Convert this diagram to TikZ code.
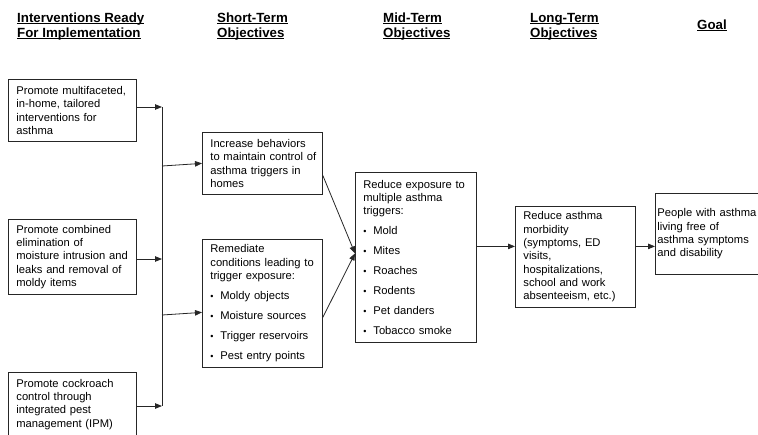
\documentclass[tikz,border=0pt]{standalone}
\usepackage{fontspec}
\setmainfont{Liberation Sans}
\usetikzlibrary{arrows.meta,calc}
\newcommand\hul[1]{\setbox0\hbox{#1}\rlap{\rule[-1.6pt]{\wd0}{0.9pt}}\box0}
\newcommand\bitem[1]{\makebox[10pt][l]{\raisebox{0.3pt}{\fontsize{9}{9}\selectfont •}}#1}
\begin{document}
\begin{tikzpicture}[x=1pt,y=-1pt,
  box/.style={draw=black!85, line width=0.8pt, align=left, anchor=north west,
    font=\fontsize{11.2}{13.3}\selectfont, inner xsep=8pt, inner ysep=0pt},
  head/.style={font=\fontsize{13.3}{14.8}\selectfont\bfseries, align=left,
    anchor=base west, inner sep=0pt},
  conn/.style={line width=0.8pt, draw=black!85},
  arr/.style={conn, -{Triangle[length=7pt,width=5.5pt]}}]
\useasboundingbox (0,0) rectangle (758,434);
\clip (0,0) rectangle (758,434);

% headings (base = baseline of last line)
\node[head] (h1) at (17,37.3) {\hul{Interventions Ready}\\\hul{For Implementation}};
\node[head] (h2) at (217,37.3) {\hul{Short-Term}\\\hul{Objectives}};
\node[head] (h3) at (383,37.3) {\hul{Mid-Term}\\\hul{Objectives}};
\node[head] (h4) at (530,37.3) {\hul{Long-Term}\\\hul{Objectives}};
\node[head] (h5) at (697,29.5) {\hul{Goal}};

% interventions
\node[box, text width=112pt, minimum height=62pt] (i1) at (8,79)
  {Promote multifaceted,\\in-home, tailored\\interventions for\\asthma};
\node[box, text width=112pt, minimum height=75pt] (i2) at (8,219)
  {Promote combined\\elimination of\\\mbox{moisture intrusion and}\\leaks and removal of\\moldy items};
\node[box, text width=112pt, minimum height=64pt] (i3) at (8,372)
  {Promote cockroach\\control through\\integrated pest\\management (IPM)};

% short-term
\node[box, text width=104pt, minimum height=62pt] (s1) at (202,132)
  {Increase behaviors\\\mbox{to maintain control of}\\asthma triggers in\\homes};
\node[box, text width=104pt, minimum height=128pt] (s2) at (202,239)
  {Remediate\\\mbox{conditions leading to}\\trigger exposure:\\[6.7pt]\bitem{Moldy objects}\\[6.7pt]\bitem{Moisture sources}\\[6.7pt]\bitem{Trigger reservoirs}\\[6.7pt]\bitem{Pest entry points}};

% mid-term
\node[box, text width=105pt, minimum height=170pt] (m) at (355,172)
  {Reduce exposure to\\multiple asthma\\triggers:\\[6.7pt]\bitem{Mold}\\[6.7pt]\bitem{Mites}\\[6.7pt]\bitem{Roaches}\\[6.7pt]\bitem{Rodents}\\[6.7pt]\bitem{Pet danders}\\[6.7pt]\bitem{Tobacco smoke}};

% long-term
\node[box, text width=104pt, minimum height=101pt] (l) at (515,206)
  {Reduce asthma\\morbidity\\(symptoms, ED\\visits,\\hospitalizations,\\school and work\\absenteeism, etc.)};

% goal
\node[box, inner xsep=2pt, text width=106pt, minimum height=81pt] (g) at (655,193)
  {People with asthma\\living free of\\asthma symptoms\\and disability};

% connectors
\coordinate (b1) at (162,107);
\coordinate (b2) at (162,259);
\coordinate (b3) at (162,406);
\coordinate (j1) at (162,166);
\coordinate (j2) at (162,315);
\draw[arr] (b1 -| i1.east) -- (b1);
\draw[arr] (b2 -| i2.east) -- (b2);
\draw[arr] (b3 -| i3.east) -- (b3);
\draw[conn] (b1) -- (b3);
\draw[arr] (j1) -- (s1.west);
\draw[arr] (j2) -- ($(s2.west)+(0,9)$);
\coordinate (mi) at ($(m.west)+(0,-4)$);
\draw[arr] ($(s1.east)+(0,12)$) -- (mi);
\draw[arr] ($(s2.east)+(0,14)$) -- (mi);
\coordinate (k) at ($(m.east)+(0,-11)$);
\draw[arr] (k) -- (k -| l.west);
\draw[arr] (k -| l.east) -- (k -| g.west);
\end{tikzpicture}
\end{document}
